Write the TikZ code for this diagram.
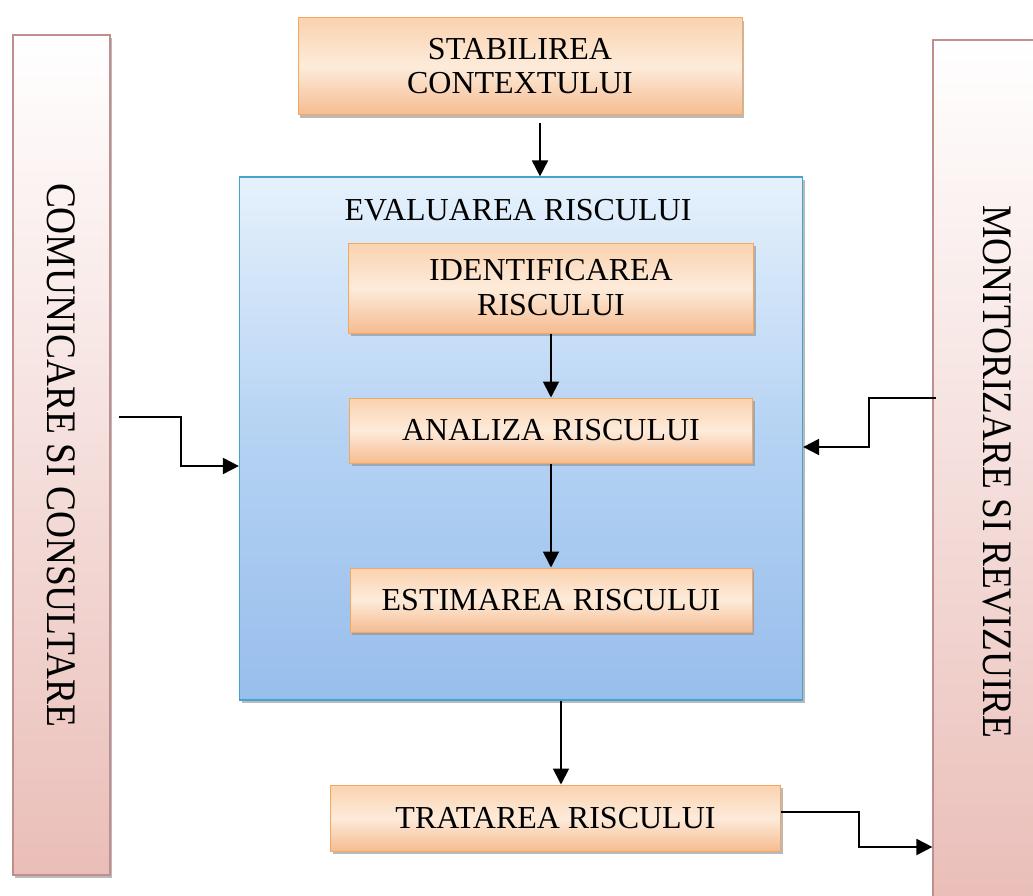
\documentclass[tikz,border=0pt]{standalone}
\usepackage{fontspec}
\setmainfont{Liberation Serif}
\usetikzlibrary{arrows.meta,shadows}
\definecolor{boxline}{RGB}{243,168,98}
\definecolor{boxtop}{RGB}{250,210,175}
\definecolor{boxmid}{RGB}{253,235,218}
\definecolor{boxbot}{RGB}{245,188,145}
\definecolor{evalline}{RGB}{70,163,205}
\definecolor{evaltop}{RGB}{230,241,252}
\definecolor{evalmid}{RGB}{180,210,243}
\definecolor{evalbot}{RGB}{152,190,236}
\definecolor{sideline}{RGB}{192,142,140}
\definecolor{sidebot}{RGB}{234,190,184}

\begin{document}
\begin{tikzpicture}[x=1pt, y=-1pt,
  softshadow/.style={drop shadow={shadow xshift=2pt, shadow yshift=-3pt, fill=black!45, opacity=.6}},
  stepbox/.style={draw=boxline, line width=1pt, top color=boxtop, bottom color=boxbot, middle color=boxmid,
    align=center, inner sep=0pt, font=\fontsize{32}{35}\selectfont, softshadow},
  evalbox/.style={draw=evalline, line width=1.2pt, top color=evaltop, bottom color=evalbot, middle color=evalmid,
    inner sep=0pt, softshadow},
  sidebar/.style={draw=sideline, line width=1.2pt, top color=white, bottom color=sidebot, inner sep=0pt,
    font=\fontsize{42}{44}\selectfont, softshadow},
  flow/.style={line width=1.9pt, -{Triangle[length=16pt, width=16pt]}}]
  \clip (0,0) rectangle (1033,896);
  \fill[white] (0,0) rectangle (1033,896);
  \node[sidebar, minimum width=97, minimum height=840] (comm) at (61.5,455)
    {\rotatebox{-90}{\scalebox{0.89}[1]{COMUNICARE SI CONSULTARE}}};
  \node[sidebar, minimum width=128, minimum height=864] (monit) at (997,472)
    {\rotatebox{-90}{\scalebox{0.89}[1]{MONITORIZARE SI REVIZUIRE}}};
  \node[stepbox, minimum width=444, minimum height=97, font=\fontsize{32}{34}\selectfont] (stab) at (520,66.5)
    {STABILIREA\\CONTEXTULUI};
  \node[evalbox, minimum width=563, minimum height=523] (eval) at (521,438.5) {};
  \node[font=\fontsize{32}{35}\selectfont] (evtitle) at (518,210) {EVALUAREA RISCULUI};
  \node[stepbox, minimum width=405, minimum height=90] (ident) at (551,288) {IDENTIFICAREA\\RISCULUI};
  \node[stepbox, minimum width=403, minimum height=65] (anal) at (551,430.5) {ANALIZA RISCULUI};
  \node[stepbox, minimum width=402, minimum height=64] (estim) at (551,600) {ESTIMAREA RISCULUI};
  \node[stepbox, minimum width=450, minimum height=66] (trat) at (555.5,818) {TRATAREA RISCULUI};
  \draw[flow] ([xshift=20pt, yshift=-8pt]stab.south) -- ([xshift=19pt]eval.north);
  \draw[flow] (ident) -- (anal);
  \draw[flow] (anal) -- (estim);
  \draw[flow] ([xshift=5.5pt]trat.north |- eval.south) -- ([xshift=5.5pt]trat.north);
  \draw[flow] ([xshift=8pt, yshift=38pt]comm.east) -- ++(62,0) |- ([yshift=-27.5pt]eval.west);
  \draw[flow] ([xshift=4pt, yshift=74pt]monit.west) -- ++(-67,0) |- ([yshift=-8.5pt]eval.east);
  \draw[flow] ([yshift=6pt]trat.east) -- ++(78,0) |- ([yshift=-375pt]monit.west);
\end{tikzpicture}
\end{document}
